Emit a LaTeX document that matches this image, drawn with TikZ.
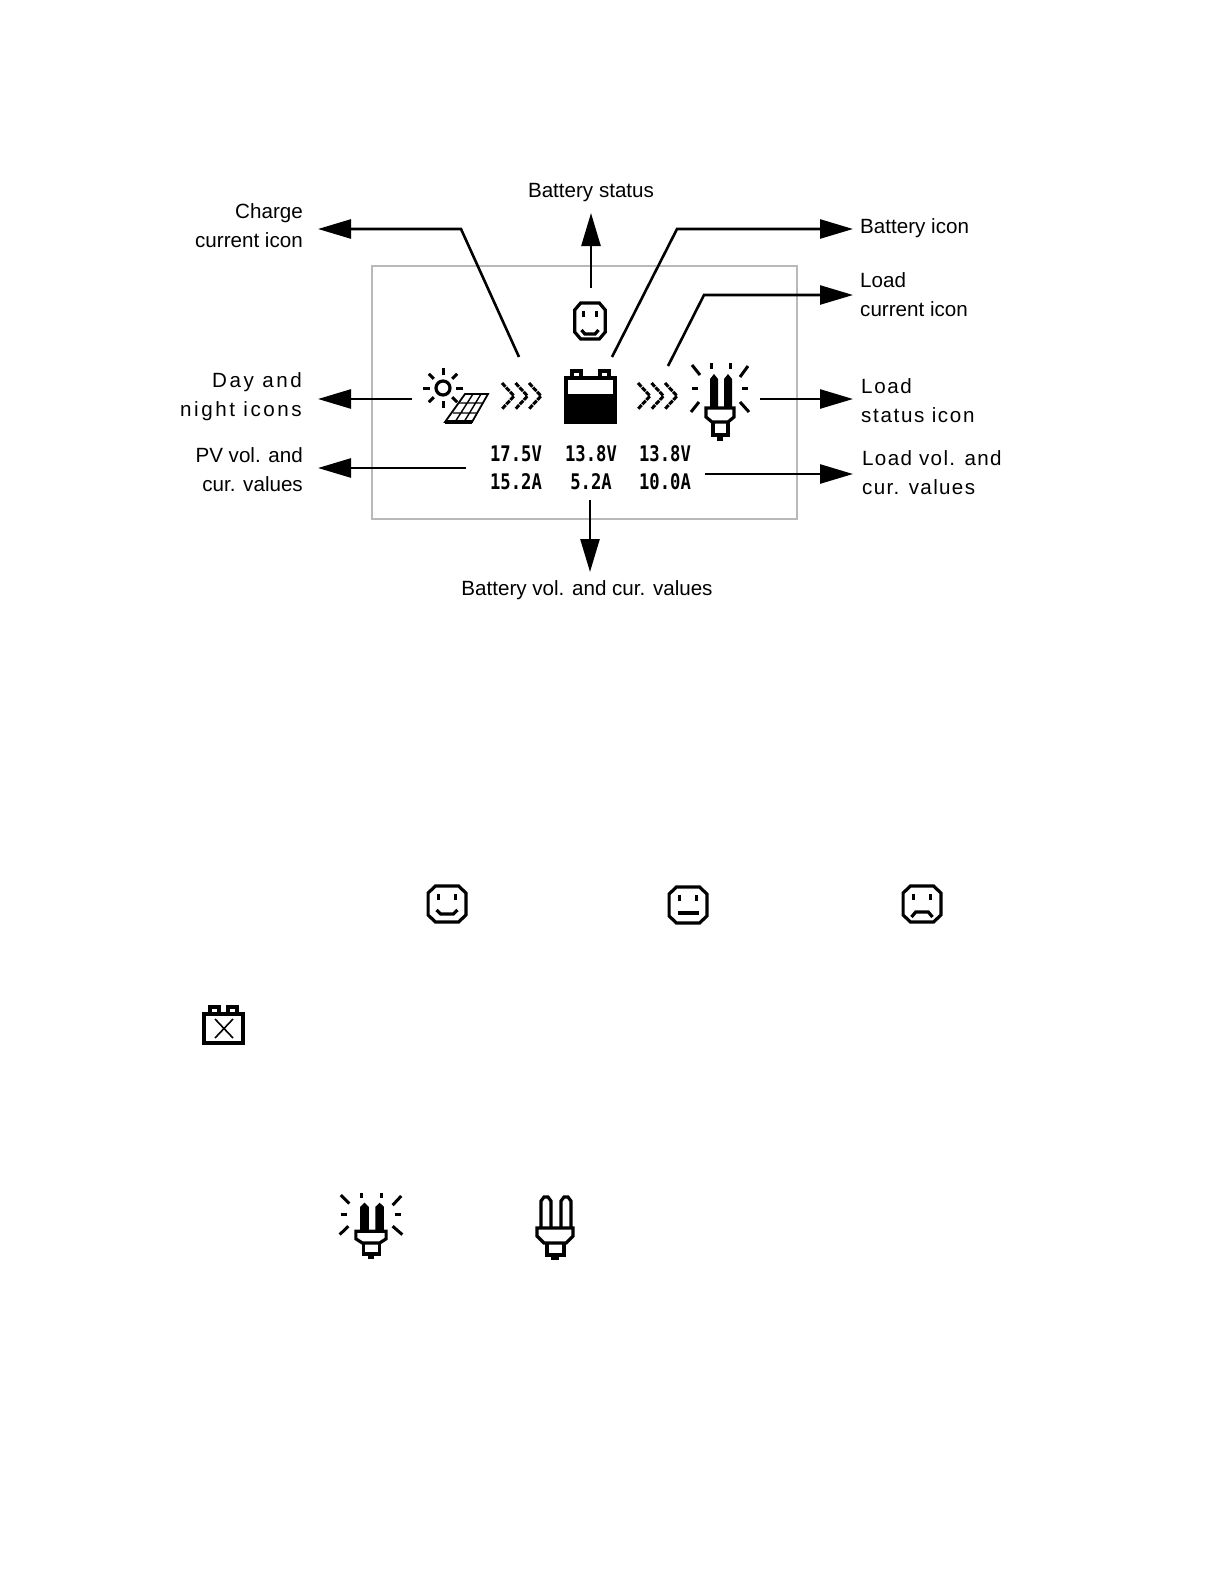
\documentclass[tikz,border=0pt]{standalone}
\usepackage{fontspec}
\setmainfont{Liberation Sans}
\newfontfamily\lcdfont{DejaVu Sans Mono}[BoldFont={DejaVu Sans Mono Bold}]
\usepackage{xcolor}
\usetikzlibrary{arrows.meta}

\begin{document}
\begin{tikzpicture}[x=1pt,y=-1pt,
  lab/.style={font=\fontsize{20.6}{29}\selectfont,inner sep=0pt,align=left},
  labl/.style={lab,anchor=east,align=right},
  labr/.style={lab,anchor=west},
  labc/.style={lab,anchor=center},
  wide/.style={font=\fontsize{20.6}{29}\selectfont\addfontfeature{LetterSpace=#1}},
  value/.style={font=\lcdfont\bfseries\fontsize{21.5}{21.5}\selectfont,inner sep=0pt,xscale=0.8,transform shape},
  arr/.style={line width=2.6pt,-{Triangle[length=33pt,width=19pt]}},
  px/.style={line width=3.2pt,line join=miter},
  ray/.style={line width=3pt},
  chev/.style={line width=3pt,dash pattern=on 5pt off 1pt}]
\useasboundingbox (0,0) rectangle (1224,1584);
\newcommand{\lcdface}[4]{
  \begin{scope}[shift={(#1,#2)},xscale=#3]
    \draw[px] (-11,-18) -- (11,-18) -- (18,-11) -- (18,11) -- (11,18) -- (-11,18) -- (-18,11) -- (-18,-11) -- cycle;
    \draw[px] (-8,-10) -- (-8,-4) (8,-10) -- (8,-4);
    \draw[px] #4;
  \end{scope}
}
\newcommand{\lcdcell}[4]{
  \draw[px] (#1,#2) rectangle (#3,#4);
  \draw[px] (#1+6,#2) -- (#1+6,#2-7) -- (#1+15,#2-7) -- (#1+15,#2);
  \draw[px] (#3-15,#2) -- (#3-15,#2-7) -- (#3-6,#2-7) -- (#3-6,#2);
}
\newcommand{\lcdchev}[1]{
  \foreach \xx in {0,13.5,27} {
    \draw[chev] (#1+\xx,383) -- (#1+\xx+12,396) -- (#1+\xx,409);
  }
}
\newcommand{\lcdrays}{
  \foreach \xa/\ya/\xb/\yb in {-28/-32/-20/-22,-9/-34/-9/-28,10/-34/10/-28,28/-31/20/-20,-28/-9/-22/-9,22/-9/28/-9,-29/15/-21/5,29/15/20/5} {
    \draw[ray] (\xa,\ya) -- (\xb,\yb);
  }
}
\newcommand{\lcdbulb}[4]{
  \begin{scope}[shift={(#1,#2)},xscale=#3,yscale=#4]
    \lcdrays
    \fill (-10,11) -- (-10,-18) -- (-6,-23) -- (-2,-18) -- (-2,11) -- cycle;
    \fill (4,11) -- (4,-18) -- (8,-23) -- (12,-18) -- (12,11) -- cycle;
    \draw[px] (-14,11) -- (14,11) -- (14,20) -- (8,25) -- (-8,25) -- (-14,20) -- cycle;
    \draw[px] (-7,25) -- (-7,38) -- (8,38) -- (8,25);
    \draw[px] (-3,42) -- (3,42);
  \end{scope}
}
\draw[line width=2pt,gray!55] (372,266) rectangle (797,519);
\lcdface{590}{321}{0.85}{(-10,9) -- (-6,13) -- (6,13) -- (10,9)}
\draw[px] (443,388) circle (7);
\foreach \aa in {0,45,...,315} {
  \draw[ray] (443,388) ++(\aa:13) -- ++(\aa:7);
}
\draw[line width=1.8pt] (465,394) -- (488,394) -- (472,422) -- (445,422) -- cycle;
\draw[line width=1.4pt] (459,403) -- (483,403) (453,413) -- (477,413) (473,394) -- (455,422) (481,394) -- (464,422);
\draw[line width=3.4pt] (445,422) -- (472,422);
\lcdchev{502}
\lcdcell{566}{378}{615}{422}
\fill (566,394) rectangle (615,422);
\lcdchev{638}
\lcdbulb{720}{397}{1}{1}
\foreach \nm/\xx/\vv/\ww in {pv/516/17.5V/15.2A,batt/591/13.8V/5.2A,load/665/13.8V/10.0A} {
  \node[value] (\nm v) at (\xx,454) {\vv};
  \node[value] (\nm a) at (\xx,482) {\ww};
}
\node[labc] (statuslab) at (591,193) {Battery status};
\node[labc] (battvallab) at (587,590) {Battery vol. and cur. values};
\node[labl] (chargelab) at (303,226) {Charge\\current icon};
\node[labl,wide=12.5] (daylab) at (302,397) {Day and\\night icons};
\node[labl] (pvlab) at (303,470) {PV vol. and\\cur. values};
\node[labr] (battlab) at (860,228) {Battery icon};
\node[labr] (loadcurlab) at (860,295) {Load\\current icon};
\node[labr,wide=8] (loadstatlab) at (861,401) {Load\\status icon};
\node[labr,wide=6.5] (loadvallab) at (862,473) {Load vol. and\\cur. values};
\coordinate (chargea) at (519,357);
\coordinate (chargeb) at (461,229);
\coordinate (chargec) at (318,229);
\coordinate (statusa) at (591,288);
\coordinate (statusb) at (591,213);
\coordinate (batta) at (612,357);
\coordinate (battb) at (677,229);
\coordinate (battc) at (853,229);
\coordinate (loada) at (668,366);
\coordinate (loadb) at (704,295);
\coordinate (loadc) at (853,295);
\coordinate (daya) at (412,399);
\coordinate (dayb) at (318,399);
\coordinate (stata) at (760,399);
\coordinate (statb) at (853,399);
\coordinate (pva) at (466,468);
\coordinate (pvb) at (318,468);
\coordinate (vala) at (705,474);
\coordinate (valb) at (853,474);
\coordinate (bvala) at (590,500);
\coordinate (bvalb) at (590,572);
\draw[arr] (chargea) -- (chargeb) -- (chargec);
\draw[arr] (statusa) -- (statusb);
\draw[arr] (batta) -- (battb) -- (battc);
\draw[arr] (loada) -- (loadb) -- (loadc);
\draw[arr] (daya) -- (dayb);
\draw[arr] (stata) -- (statb);
\draw[arr] (pva) -- (pvb);
\draw[arr] (vala) -- (valb);
\draw[arr] (bvala) -- (bvalb);
\lcdface{447}{904}{1.05}{(-10,6) -- (-6,10) -- (6,10) -- (10,6)}
\lcdface{688}{905}{1.05}{(-10,8) -- (10,8)}
\lcdface{922}{904}{1.05}{(-10,13) -- (-6,8) -- (6,8) -- (10,13)}
\lcdcell{204}{1014}{243}{1043}
\draw[line width=1.6pt] (215,1019) -- (233,1038) (233,1019) -- (215,1038);
\lcdbulb{371}{1222}{1.08}{0.84}
\begin{scope}[shift={(555,1228)}]
  \draw[px] (-14,0) -- (-14,-27) -- (-11,-31) -- (-7,-31) -- (-4,-27) -- (-4,0);
  \draw[px] (6,0) -- (6,-27) -- (9,-31) -- (13,-31) -- (16,-27) -- (16,0);
  \draw[px] (-18,0) -- (18,0) -- (18,8) -- (11,15) -- (-11,15) -- (-18,8) -- cycle;
  \draw[px] (-8,15) -- (-8,27) -- (9,27) -- (9,15);
  \draw[px] (-4,30) -- (4,30);
\end{scope}
\end{tikzpicture}
\end{document}
